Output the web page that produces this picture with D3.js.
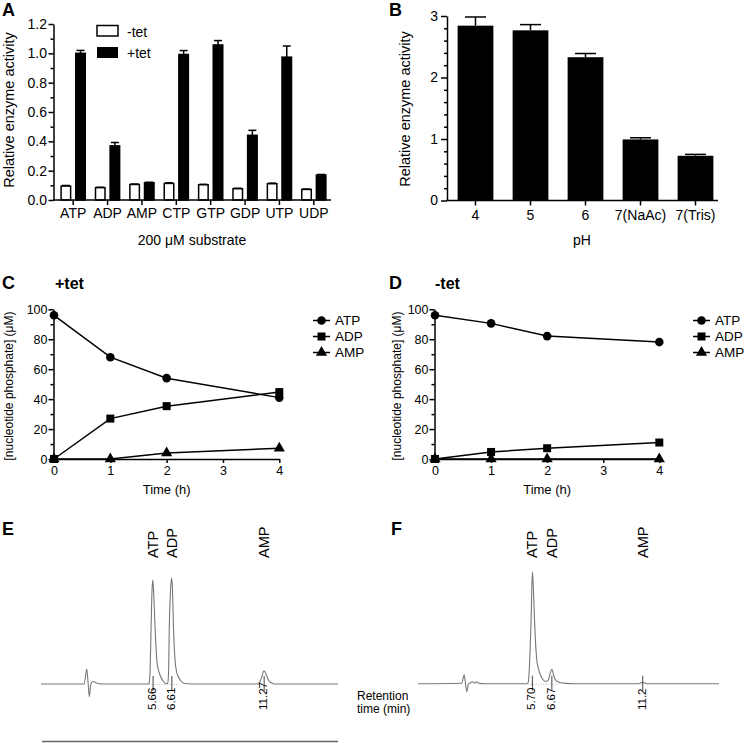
<!DOCTYPE html>
<html><head><meta charset="utf-8">
<script src="https://cdn.jsdelivr.net/npm/d3@7"></script>
<style>
body{margin:0;background:#fff}
svg{display:block}
</style></head><body>
<svg id="c" width="745" height="743"></svg>
<script>
// ---------- DATA ----------
// Panel A
const substrates = ["ATP","ADP","AMP","CTP","GTP","GDP","UTP","UDP"];
const minusTet    = [0.095,0.084,0.106,0.113,0.104,0.077,0.111,0.072];
const minusTetErr = [0.004,0.003,0.003,0.004,0.003,0.003,0.004,0.003];
const plusTet     = [1.000,0.369,0.118,0.992,1.057,0.441,0.974,0.170];
const plusTetErr  = [0.020,0.023,0.003,0.027,0.030,0.034,0.076,0.004];
const yTicksA = [0,0.2,0.4,0.6,0.8,1.0,1.2];
// Panel B
const phLabels   = ["4","5","6","7(NaAc)","7(Tris)"];
const phActivity = [2.843,2.767,2.330,0.993,0.727];
const phErr      = [0.141,0.093,0.060,0.027,0.023];
const yTicksB = [0,1,2,3];
// Panels C / D
const timeH    = [0,1,2,4];
const plusATP  = [96,68,54,41];
const plusADP  = [0,27,35.3,44.7];
const plusAMP  = [0,0,4,7.2];
const minusATP = [96,90.6,82.1,78.1];
const minusADP = [0,4.7,7.2,11];
const minusAMP = [0,0,0,0];
const nucleotides = ["ATP","ADP","AMP"];
const yTicksCD = [0,20,40,60,80,100];
const xTicksCD = [0,1,2,3,4];
// Panels E / F (HPLC traces: [retention time (min), signal])
const traceE = [[0,0],[2.18,0],[2.31,15],[2.38,1],[2.44,-12.7],[2.52,0],[2.62,2.5],[2.80,1],[3.10,0],
  [5.40,0],[5.46,1],[5.51,14],[5.56,57],[5.61,95],[5.645,104],[5.69,92],[5.76,57],[5.85,24],[5.93,14],[6.01,9],[6.18,2.5],[6.32,0.5],
  [6.40,0.5],[6.44,10],[6.48,57],[6.545,95],[6.60,106],[6.64,95],[6.69,57],[6.77,24],[6.85,12],[6.94,7],[7.05,3.5],[7.19,1],[7.40,0.3],[7.80,0],
  [10.95,0],[11.05,2],[11.15,7],[11.25,13],[11.32,12],[11.42,7],[11.52,3],[11.65,1],[11.80,0],[15,0]];
const traceF = [[0,0],[2.18,0.5],[2.30,9],[2.37,0],[2.43,-8],[2.52,0],[2.62,1],[2.72,2],[2.82,0.5],[2.92,2],[3.02,0.5],[3.30,0],
  [5.45,0],[5.50,2],[5.56,20],[5.64,67],[5.70,112],[5.74,100],[5.80,67],[5.86,40],[5.92,24],[6.00,15],[6.08,10],[6.20,5],[6.33,2.5],
  [6.42,2.5],[6.50,4],[6.58,10],[6.67,14.5],[6.74,10],[6.82,5],[6.92,2.5],[7.10,1],[7.40,0.3],[7.80,0],
  [11.0,0],[11.2,1.5],[11.4,0],[15,0]];
const rtE = [5.66,6.61,11.27];
const rtLabelsE = ["5.66","6.61","11.27"];
const rtF = [5.70,6.67,11.2];
const rtLabelsF = ["5.70","6.67","11.2"];

// ---------- DRAW ----------
const FONT = '"Liberation Sans", Arial, Helvetica, sans-serif';
const svg = d3.select("#c").attr("font-family", FONT);

function styleAxis(g, fs){
  g.selectAll("path,line").attr("stroke","#000").attr("stroke-width",1.5);
  g.selectAll("text").attr("font-size",fs).attr("font-family",FONT).attr("fill","#000");
}
function txt(x,y,s,opt={}){
  const t = svg.append("text").attr("x",x).attr("y",y).text(s)
    .attr("font-size",opt.fs||13).attr("fill","#000")
    .attr("text-anchor",opt.anchor||"start")
    .attr("font-weight",opt.bold?"bold":"normal");
  if(opt.rot){ t.attr("transform",`rotate(-90,${x},${y})`); }
  if(opt.dy) t.attr("dy",opt.dy);
  return t;
}

// ===== Panel A =====
{
  const x = d3.scaleBand().domain(substrates).range([56,331]);
  const xi = d3.scaleBand().domain(["m","p"]).range([0,x.bandwidth()]).paddingInner(0.35).paddingOuter(0.35);
  const y = d3.scaleLinear().domain([0,1.2]).range([200,24]);
  const g = svg.append("g");
  substrates.forEach((s,i)=>{
    [["m",minusTet[i],minusTetErr[i],"#fff"],["p",plusTet[i],plusTetErr[i],"#000"]].forEach(([k,v,e,f])=>{
      const bx = x(s)+xi(k), bw = xi.bandwidth(), cx = bx+bw/2;
      g.append("line").attr("x1",cx).attr("x2",cx).attr("y1",y(v)).attr("y2",y(v+e)).attr("stroke","#000").attr("stroke-width",1.5);
      g.append("line").attr("x1",cx-4).attr("x2",cx+4).attr("y1",y(v+e)).attr("y2",y(v+e)).attr("stroke","#000").attr("stroke-width",1.5);
      g.append("rect").attr("x",bx).attr("y",y(v)).attr("width",bw).attr("height",y(0)-y(v))
        .attr("fill",f).attr("stroke","#000").attr("stroke-width",1.5);
    });
  });
  const ya = g.append("g").attr("transform","translate(53.5,0)")
    .call(d3.axisLeft(y).tickValues(yTicksA).tickFormat(d3.format(".1f")).tickSize(5).tickPadding(1.5).tickSizeOuter(0));
  styleAxis(ya,14);
  const ym = g.append("g").attr("transform","translate(53.5,0)")
    .call(d3.axisLeft(y).tickValues(d3.range(1,12,2).map(d=>d/10)).tickSize(3).tickFormat(""));
  styleAxis(ym,13); ym.select(".domain").remove();
  const xa = g.append("g").attr("transform","translate(0,200)")
    .call(d3.axisBottom(x).tickSize(5).tickPadding(3).tickSizeOuter(0));
  styleAxis(xa,14); xa.select(".domain").remove();
  g.append("line").attr("x1",53).attr("x2",331).attr("y1",200).attr("y2",200).attr("stroke","#000").attr("stroke-width",1.5);
  g.append("rect").attr("x",97).attr("y",25.5).attr("width",21).attr("height",10.5).attr("fill","#fff").attr("stroke","#000").attr("stroke-width",1.5);
  g.append("rect").attr("x",97).attr("y",47).attr("width",21).attr("height",11).attr("fill","#000");
  txt(127,36.5,"-tet",{fs:14});
  txt(127,58,"+tet",{fs:14});
  txt(14,110,"Relative enzyme activity",{fs:14.5,anchor:"middle",rot:true});
  txt(192,245,"200 \u03BCM substrate",{fs:14,anchor:"middle"});
  txt(2,16,"A",{fs:18,bold:true});
}

// ===== Panel B =====
{
  const x = d3.scaleBand().domain(phLabels).range([448,723]).paddingInner(0.35).paddingOuter(0.175);
  const y = d3.scaleLinear().domain([0,3]).range([200.5,16]);
  const g = svg.append("g");
  phLabels.forEach((s,i)=>{
    const v = phActivity[i], e = phErr[i], cx = x(s)+x.bandwidth()/2;
    g.append("line").attr("x1",cx).attr("x2",cx).attr("y1",y(v)).attr("y2",y(v+e)).attr("stroke","#000").attr("stroke-width",1.5);
    g.append("line").attr("x1",cx-10.5).attr("x2",cx+10.5).attr("y1",y(v+e)).attr("y2",y(v+e)).attr("stroke","#000").attr("stroke-width",1.5);
    g.append("rect").attr("x",x(s)).attr("y",y(v)).attr("width",x.bandwidth()).attr("height",y(0)-y(v)).attr("fill","#000");
  });
  const ya = g.append("g").attr("transform","translate(447,0)")
    .call(d3.axisLeft(y).tickValues(yTicksB).tickFormat(d3.format("d")).tickSize(6).tickPadding(3).tickSizeOuter(0));
  styleAxis(ya,14);
  const ym = g.append("g").attr("transform","translate(447,0)")
    .call(d3.axisLeft(y).tickValues(d3.range(0,31,2).filter(d=>d%10!==0).map(d=>d/10)).tickSize(3).tickFormat(""));
  styleAxis(ym,13); ym.select(".domain").remove();
  const xa = g.append("g").attr("transform","translate(0,200.5)")
    .call(d3.axisBottom(x).tickSize(5).tickPadding(5).tickSizeOuter(0));
  styleAxis(xa,14); xa.select(".domain").remove();
  g.append("line").attr("x1",446).attr("x2",718).attr("y1",200.5).attr("y2",200.5).attr("stroke","#000").attr("stroke-width",1.5);
  txt(410,109,"Relative enzyme activity",{fs:14.5,anchor:"middle",rot:true});
  txt(582,245,"pH",{fs:14,anchor:"middle"});
  txt(389,16,"B",{fs:18,bold:true});
}

// ===== Panels C & D =====
function timeCourse(x0, yAxisX, x4, series, title, letter, letterX, titleX, ytitleX, legendX){
  const x = d3.scaleLinear().domain([0,4]).range([x0,x4]);
  const y = d3.scaleLinear().domain([0,100]).range([459,309.3]);
  const g = svg.append("g");
  const ya = g.append("g").attr("transform",`translate(${yAxisX},0)`)
    .call(d3.axisLeft(y).tickValues(yTicksCD).tickFormat(d3.format("d")).tickSize(5).tickPadding(1).tickSizeOuter(0));
  styleAxis(ya,12.5);
  const ym = g.append("g").attr("transform",`translate(${yAxisX},0)`)
    .call(d3.axisLeft(y).tickValues(d3.range(10,100,20)).tickSize(3).tickFormat(""));
  styleAxis(ym,12); ym.select(".domain").remove();
  const xa = g.append("g").attr("transform","translate(0,459)")
    .call(d3.axisBottom(x).tickValues(xTicksCD).tickFormat(d3.format("d")).tickSize(4).tickPadding(3).tickSizeOuter(0));
  styleAxis(xa,12.5);
  const line = d3.line().x((d,i)=>x(timeH[i])).y(d=>y(d));
  const markers = [d3.symbolCircle, d3.symbolSquare, d3.symbolTriangle];
  const sizes = [58,64,54];
  series.forEach((vals,k)=>{
    g.append("path").attr("d",line(vals)).attr("fill","none").attr("stroke","#000").attr("stroke-width",1.5);
    vals.forEach((v,i)=>{
      g.append("path").attr("d",d3.symbol(markers[k],sizes[k])())
        .attr("transform",`translate(${x(timeH[i])},${y(v)})`).attr("fill","#000");
    });
    const ly = 320.5 + k*16;
    g.append("line").attr("x1",legendX).attr("x2",legendX+17).attr("y1",ly).attr("y2",ly).attr("stroke","#000").attr("stroke-width",1.5);
    g.append("path").attr("d",d3.symbol(markers[k],sizes[k])()).attr("transform",`translate(${legendX+8.5},${ly})`).attr("fill","#000");
    txt(legendX+22,ly,nucleotides[k],{fs:13.5,dy:"0.35em"});
  });
  txt(ytitleX,386,"[nucleotide phosphate] (\u03BCM)",{fs:12,anchor:"middle",rot:true});
  txt((x0+x4)/2,494,"Time (h)",{fs:13,anchor:"middle"});
  txt(letterX,289,letter,{fs:18,bold:true});
  txt(titleX,289,title,{fs:16,bold:true});
}
timeCourse(54,53.5,279.3,[plusATP,plusADP,plusAMP],"+tet","C",2,55,13,313);
timeCourse(435,434.5,659.3,[minusATP,minusADP,minusAMP],"-tet","D",389,435,401,693);

// ===== Panels E & F =====
function chrom(trace, rts, rtLabels, x0, x1, base, letter, letterX, bottomLine){
  const x = d3.scaleLinear().domain([0,15]).range([x0,x1]);
  const y = d3.scaleLinear().domain([0,100]).range([base,base-100]);
  const g = svg.append("g");
  g.append("line").attr("x1",x(rts[0])-4).attr("x2",x(rts[1])+6).attr("y1",base+0.5).attr("y2",base+0.5)
    .attr("stroke","#aaa").attr("stroke-width",0.8).attr("stroke-dasharray","1,1.5");
  g.append("path").attr("d",d3.line().x(d=>x(d[0])).y(d=>y(d[1])).curve(d3.curveMonotoneX)(trace))
    .attr("fill","none").attr("stroke","#777").attr("stroke-width",1.1);
  rts.forEach((rt,i)=>{
    g.append("line").attr("x1",x(rt)).attr("x2",x(rt)).attr("y1",base-8).attr("y2",base+7).attr("stroke","#444").attr("stroke-width",1);
    txt(x(rt),558,nucleotides[i],{fs:14.5,rot:true,dy:"0.35em"});
    txt(x(rt)-1,710,rtLabels[i],{fs:11.5,rot:true,dy:"0.35em"});
  });
  if(bottomLine){
    g.append("line").attr("x1",x0+1).attr("x2",x1).attr("y1",741.5).attr("y2",741.5).attr("stroke","#666").attr("stroke-width",1.5);
  }
  txt(letterX,535,letter,{fs:18,bold:true});
}
chrom(traceE, rtE, rtLabelsE, 41, 338, 684, "E", 2, true);
chrom(traceF, rtF, rtLabelsF, 418, 719, 683.7, "F", 391, false);
txt(357,700,"Retention",{fs:12});
txt(357,713,"time (min)",{fs:12});
</script>
</body></html>
